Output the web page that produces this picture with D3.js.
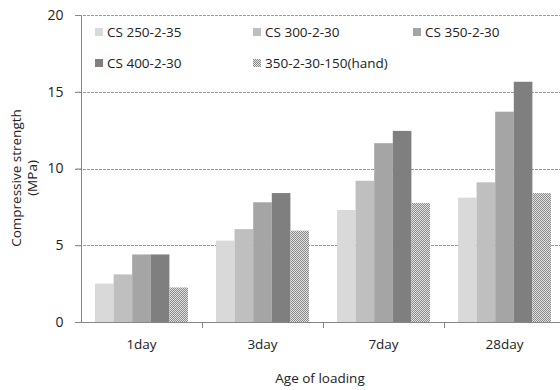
<!DOCTYPE html>
<html><head><meta charset="utf-8">
<script src="https://cdn.jsdelivr.net/npm/d3@7"></script>
<style>
html,body{margin:0;padding:0;background:#fff;}
svg{display:block;font-family:"Open Sans",sans-serif;}
</style></head>
<body><svg id="c" width="560" height="390"></svg>
<script>
const categories = ["1day","3day","7day","28day"];
const seriesNames = ["CS 250-2-35","CS 300-2-30","CS 350-2-30","CS 400-2-30","350-2-30-150(hand)"];
const cs250 = [2.5, 5.3, 7.3, 8.1];
const cs300 = [3.1, 6.05, 9.2, 9.1];
const cs350 = [4.4, 7.8, 11.65, 13.7];
const cs400 = [4.4, 8.4, 12.45, 15.65];
const hand  = [2.25, 5.95, 7.75, 8.4];
const yTicks = [0,5,10,15,20];

const seriesValues = [cs250, cs300, cs350, cs400, hand];
const fills = ["#d9d9d9","#bfbfbf","#a5a5a5","#7f7f7f","url(#dots)"];

const svg = d3.select("#c");
const defs = svg.append("defs");
const pat = defs.append("pattern").attr("id","dots").attr("patternUnits","userSpaceOnUse")
  .attr("width",2).attr("height",2);
pat.append("rect").attr("width",2).attr("height",2).attr("fill","#e2e2e2");
pat.append("rect").attr("width",1).attr("height",1).attr("fill","#8a8a8a");
pat.append("rect").attr("x",1).attr("y",1).attr("width",1).attr("height",1).attr("fill","#8a8a8a");

const x0 = d3.scaleBand().domain(categories).range([81, 81 + 4*121]).padding(0);
const x1 = d3.scaleBand().domain(d3.range(seriesNames.length)).range([14, x0.bandwidth()-14]).padding(0);
const y = d3.scaleLinear().domain([0,20]).range([322, 15]);

// gridlines
svg.append("g").selectAll("line").data(yTicks.filter(d=>d>0)).join("line")
  .attr("x1",75).attr("x2",560).attr("y1",d=>Math.round(y(d))+0.5).attr("y2",d=>Math.round(y(d))+0.5)
  .attr("stroke","#999").attr("stroke-width",1).attr("stroke-dasharray","3,1");

// bars
const groups = svg.append("g").selectAll("g").data(categories).join("g")
  .attr("transform",d=>`translate(${x0(d)},0)`);
groups.selectAll("rect").data((c,ci)=>seriesValues.map((s,si)=>({si, v:s[ci]}))).join("rect")
  .attr("x",d=>x1(d.si)).attr("width",x1.bandwidth())
  .attr("y",d=>y(d.v)).attr("height",d=>y(0)-y(d.v))
  .attr("fill",d=>fills[d.si]);

// y axis
const yAxis = d3.axisLeft(y).tickValues(yTicks).tickSize(6).tickPadding(12);
const gy = svg.append("g").attr("transform","translate(81.5,0)").call(yAxis);
gy.select(".domain").attr("stroke","#868686").attr("d","M-6,"+y(20)+".5H0V"+(y(0)+0.5));
gy.selectAll(".tick line").attr("stroke","#868686");
gy.selectAll(".tick text").attr("font-size",14).attr("fill","#222").attr("font-family","'Open Sans',sans-serif");

// x axis
const xAxis = d3.axisBottom(x0).tickSize(0).tickPadding(17);
const gx = svg.append("g").attr("transform","translate(0,322.5)").call(xAxis);
gx.select(".domain").attr("stroke","#868686").attr("d","M75,0H560");
gx.selectAll(".tick text").attr("font-size",13.5).attr("fill","#222").attr("font-family","'Open Sans',sans-serif");
svg.append("g").selectAll("line").data(categories.slice(1)).join("line")
  .attr("x1",d=>Math.round(x0(d))+0.5).attr("x2",d=>Math.round(x0(d))+0.5)
  .attr("y1",322.5).attr("y2",328).attr("stroke","#868686");

// axis titles
svg.append("text").attr("x",320).attr("y",383).attr("text-anchor","middle")
  .attr("font-size",13.5).attr("fill","#222").text("Age of loading");
const yt = svg.append("text").attr("transform","translate(17,178) rotate(-90)").attr("text-anchor","middle")
  .attr("font-size",13.5).attr("fill","#222");
yt.append("tspan").attr("x",0).attr("dy",4).text("Compressive strength");
yt.append("tspan").attr("x",0).attr("dy",16).text("(MPa)");

// legend
const legPos = [[95,32],[253,32],[413,32],[95,63],[253,63]];
const leg = svg.append("g").selectAll("g").data(seriesNames).join("g")
  .attr("transform",(d,i)=>`translate(${legPos[i][0]},${legPos[i][1]})`);
leg.append("rect").attr("x",0).attr("y",-4).attr("width",8).attr("height",8).attr("fill",(d,i)=>fills[i]);
leg.append("text").attr("x",12).attr("y",5).attr("font-size",13.5).attr("fill","#222").text(d=>d);
</script></body></html>
